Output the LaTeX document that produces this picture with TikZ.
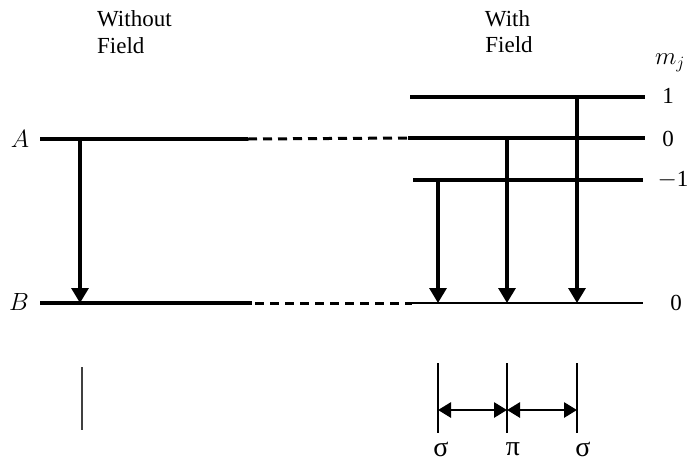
\documentclass[tikz,border=0pt]{standalone}
\usepackage{fontspec}
\setmainfont{Liberation Serif}
\usetikzlibrary{arrows.meta}
\begin{document}
\begin{tikzpicture}[x=1pt,y=-1pt,
  level/.style={line width=3.6pt},
  thinlevel/.style={line width=2.2pt},
  link/.style={line width=3pt, dash pattern=on 9pt off 6pt},
  trans/.style={line width=3.2pt,-{Triangle[length=15pt,width=17pt]}},
  tick/.style={line width=1.3pt},
  gap/.style={line width=2.8pt,{Triangle[length=13pt,width=15pt]}-{Triangle[length=13pt,width=15pt]}},
  lbl/.style={font=\fontsize{23}{26}\selectfont, inner sep=0pt},
  greek/.style={font=\fontsize{28}{30}\selectfont, inner sep=0pt}]
\useasboundingbox (0,0) rectangle (693,464);

% headings
\node[lbl,anchor=base west] (wo1) at (97,26.5) {Without};
\node[lbl,anchor=base west] (wo2) at (97,53) {Field};
\node[lbl,anchor=base] (wi1) at (507.5,26) {With};
\node[lbl,anchor=base] (wi2) at (509,52.5) {Field};

% level end points
\coordinate (A0) at (40,139);  \coordinate (A1) at (248,139);
\coordinate (B0) at (40,303);  \coordinate (B1) at (252,303);
\coordinate (P0) at (410,97);  \coordinate (P1) at (645,97);
\coordinate (Z0) at (408,138); \coordinate (Z1) at (645,138);
\coordinate (M0) at (413,180); \coordinate (M1) at (643,180);
\coordinate (G0) at (412,303); \coordinate (G1) at (643,303);
\coordinate (Bd) at (255,303);

% levels without field
\draw[level] (A0) -- (A1);
\draw[level] (B0) -- (B1);
% Zeeman sublevels
\draw[level] (P0) -- (P1);
\draw[level] (Z0) -- (Z1);
\draw[level] (M0) -- (M1);
\draw[thinlevel] (G0) -- (G1);
% correspondence lines
\draw[link] (A1) -- (Z0);
\draw[link] (Bd) -- (G0);

% level labels
\node[lbl] (labA) at (20,139) {$A$};
\node[lbl] (labB) at (19,302) {$B$};
\node[lbl] (mj) at (670,63) {$m_j$};
\node[lbl] (m1) at (668,96) {1};
\node[lbl] (m0) at (668,139) {0};
\node[lbl] (mm1) at (673,180) {$-$1};
\node[lbl] (g0) at (676,303) {0};

% transitions
\coordinate (tA) at (80,139);  \coordinate (tB) at (80,303);
\coordinate (s1a) at (438,180); \coordinate (s1b) at (438,303);
\coordinate (pa) at (507,138);  \coordinate (pb) at (507,303);
\coordinate (s2a) at (577,97);  \coordinate (s2b) at (577,303);
\draw[trans] (tA) -- (tB);
\draw[trans] (s1a) -- (s1b);
\draw[trans] (pa) -- (pb);
\draw[trans] (s2a) -- (s2b);

% spectra
\coordinate (L0) at (82,367); \coordinate (L1) at (82,430);
\draw[tick, black!75] (L0) -- (L1);
\coordinate (k1a) at (438,363); \coordinate (k1b) at (438,433);
\coordinate (k2a) at (507,363); \coordinate (k2b) at (507,433);
\coordinate (k3a) at (577,363); \coordinate (k3b) at (577,433);
\draw[tick] (k1a) -- (k1b);
\draw[tick] (k2a) -- (k2b);
\draw[tick] (k3a) -- (k3b);
\coordinate (h1) at (438,410); \coordinate (h2) at (507,410); \coordinate (h3) at (577,410);
\draw[gap] (h1) -- (h2);
\draw[gap] (h2) -- (h3);
\node[greek] (sg1) at (441,449) {σ};
\node[greek] (pi) at (513,449) {π};
\node[greek] (sg2) at (583,449) {σ};
\end{tikzpicture}
\end{document}
